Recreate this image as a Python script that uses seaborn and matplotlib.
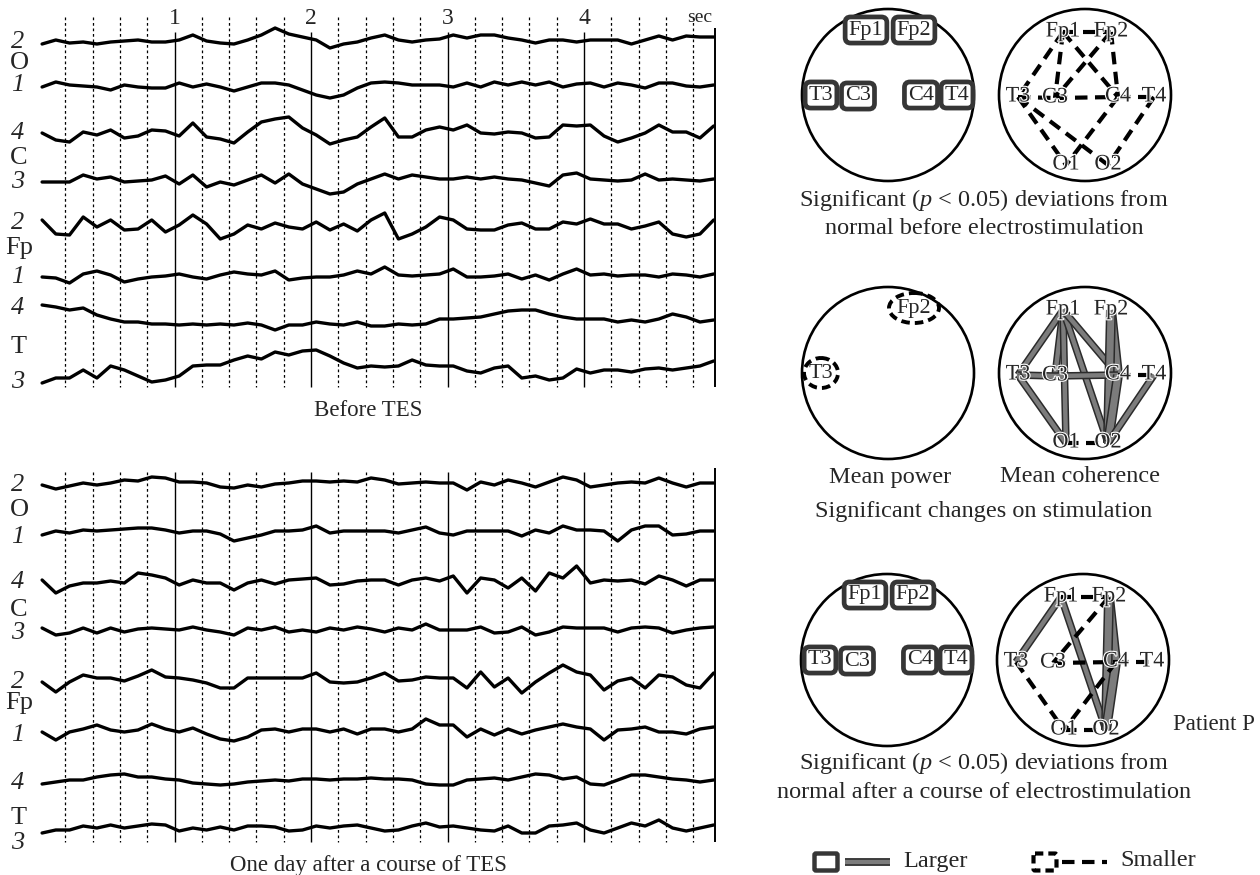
import numpy as np
import pandas as pd
import seaborn as sns
import matplotlib.pyplot as plt
import matplotlib.patheffects as pe
from matplotlib.patches import Circle, Ellipse, FancyBboxPatch

sns.set_style("white")
plt.rcParams['font.family'] = ['Liberation Serif', 'DejaVu Serif']
plt.rcParams['mathtext.fontset'] = 'custom'
plt.rcParams['mathtext.it'] = 'Liberation Serif:italic'
plt.rcParams['mathtext.rm'] = 'Liberation Serif'

# EEG amplitudes (pixels, up = positive), one sample per ~0.1 s
top_O2 = [-1, 3, 0, 1, -1, 1, 2, 3, 1, 1, 3, 8, 2, 0, -1, 3, 8, 15, 9, 6,
          3, -5, -1, 1, 5, 8, 3, 1, 3, 4, 8, 5, 8, 8, 5, 3, 0, 3, 3, 1,
          3, 3, 3, -1, 3, 7, 3, 7, 6, 6]
top_O1 = [-2, 3, 0, -1, -2, -5, 0, -2, -3, -3, 2, -2, 1, -2, -6, -2, 2, 2, 0, -5,
          -10, -13, -10, -3, 2, 3, 2, 0, 0, 0, -2, 2, -2, 3, 0, 3, 0, 3, -2, 1,
          2, -2, 2, 0, -3, 2, 2, -1, -2, 0]
top_C4 = [2, -5, -7, 3, 0, 5, -3, -1, 5, 4, -1, 12, -2, -4, -8, 3, 13, 16, 18, 7,
          0, -9, -5, -2, 8, 17, -2, -2, 5, 8, 5, 10, 2, 1, 3, 2, -3, -2, 10, 9,
          10, -1, -7, -3, 2, 10, 3, 3, -3, 9]
top_C3 = [0, 0, 0, 7, 3, 5, 0, 1, 2, 6, -2, 7, -5, 0, -3, 2, 7, -1, 8, -2,
          -7, -12, -10, -2, 3, 8, 3, 7, 5, 3, 3, 5, 3, 5, 3, 2, -1, -4, 7, 9,
          3, 2, 1, 2, 8, 2, 3, 2, 1, 3]
top_Fp2 = [7, -7, -8, 10, 0, 7, -3, -2, 7, -5, 2, 12, 3, -12, -7, 2, -2, 4, 0, -2,
           5, -3, 3, -4, 7, 14, -12, -7, 0, 10, 7, -2, -3, -3, 2, 4, -2, -2, 5, 3,
           8, 3, 3, -2, 1, 5, -7, -10, -7, 7]
top_Fp1 = [0, -1, -6, 3, 6, 2, -5, -2, 0, 1, 3, 0, -2, 2, 5, 3, 2, 6, -3, -1,
           0, 0, 2, 6, 3, 10, 2, 1, 2, 3, 8, 0, 0, 1, 3, -2, 2, -3, 3, 8,
           2, 3, 1, 2, 2, 0, 3, 2, 0, 3]
top_T4 = [17, 15, 12, 14, 7, 3, 0, 0, -2, -2, -3, -2, -3, -2, -3, -1, -3, -8, -3, -3,
          0, -2, -3, 0, -4, -4, -2, -3, -2, 3, 3, 4, 5, 8, 11, 12, 12, 8, 5, 3,
          3, 3, 0, 2, 0, 3, 8, 5, 0, 2]
top_T3 = [-10, -5, -5, 3, -5, 7, 3, -3, -9, -7, -3, 7, 8, 8, 13, 17, 14, 21, 18, 22,
          23, 17, 10, 5, 7, 6, 7, 13, 8, 7, 7, 2, 0, 5, 7, -5, -3, -7, -5, 4,
          0, 3, 3, 1, 4, 5, 3, 5, 7, 12]

bot_O2 = [0, -4, -1, 2, 0, 2, 5, 4, 8, 7, 3, 3, 2, -2, -3, 0, -2, 1, 2, 4,
          4, 3, 4, 3, 7, 5, 1, 2, 3, 2, 2, -5, 3, 0, 5, 2, -2, 3, 8, 5,
          -2, 0, 2, 3, 2, 7, 2, -2, 2, 2]
bot_O1 = [-2, 2, 0, 3, 2, 3, 4, 5, 5, 3, 0, 2, 2, -1, -8, -5, -2, 2, 2, 3,
          7, 0, 2, 2, 2, 2, 0, 3, 6, 0, -2, 2, 2, 2, 2, -3, 3, 0, 7, 3,
          3, 2, -8, 3, 7, 7, -2, -1, 2, 2]
bot_C4 = [3, -10, -3, 0, 0, 2, 0, 10, 8, 5, -2, 3, 0, 0, -7, 0, 3, -1, 3, 4,
          5, -2, -1, 2, 3, 3, -2, 3, 5, 2, 7, -10, 5, 3, -5, 5, -8, 10, 5, 17,
          0, 3, 2, 3, -1, 7, 3, -3, 3, 3]
bot_C3 = [2, -5, -3, 2, -3, 2, -2, 1, 2, 1, 0, 3, 0, -2, -5, 2, 0, 3, -2, 0,
          -2, 2, 0, 3, 1, -2, 2, 0, 6, 0, 0, 0, 3, -3, -2, 3, -5, -2, 3, 2,
          2, 2, -2, 2, 3, 2, -3, 0, 2, 3]
bot_Fp2 = [-2, -12, -2, 5, 2, 2, -1, 4, 10, 3, 2, 0, -3, -8, -8, 2, 2, 2, 2, 2,
           7, -2, -3, -2, 2, 7, -1, 0, 3, 2, 2, -8, 8, -7, 2, -13, -2, 7, 15, 8,
           5, -10, -1, 2, -8, 5, 3, -5, -8, 7]
bot_Fp1 = [0, -8, 0, 3, 7, 2, 0, 2, 8, 3, 0, 4, -2, -7, -9, -5, 2, 3, 0, 3,
           3, 0, 3, -2, 3, 3, 0, 3, 13, 7, 7, -5, 3, -3, 3, -2, 2, 5, 8, 5,
           3, -8, 2, 3, 5, 0, 0, -2, 3, 5]
bot_T4 = [-2, 0, 2, 2, 5, 7, 8, 5, 5, 3, 2, -1, -2, -3, -2, 0, 1, 2, 1, 3,
          3, 2, 3, 3, 4, 3, 3, 2, -2, -3, -3, 2, 3, 4, 2, 5, 8, 7, 3, 5,
          -2, -3, 2, 7, 7, 5, 3, 2, 0, 2]
bot_T3 = [-5, -2, -2, 2, 0, 3, 0, 2, 4, 3, -3, 0, -2, 1, -2, 2, 2, 1, -3, -2,
          2, 0, 2, 3, 0, -3, -2, 2, 5, 1, 2, 0, -2, -3, 2, -5, -5, 2, 3, 5,
          -2, -5, 0, 5, 2, 8, 0, -3, 0, 3]

channels = ["O2", "O1", "C4", "C3", "Fp2", "Fp1", "T4", "T3"]
top_traces = [top_O2, top_O1, top_C4, top_C3, top_Fp2, top_Fp1, top_T4, top_T3]
bot_traces = [bot_O2, bot_O1, bot_C4, bot_C3, bot_Fp2, bot_Fp1, bot_T4, bot_T3]
top_base = [43, 85, 135, 182, 227, 277, 322, 373]
bot_base = [485, 533, 583, 630, 680, 732, 782, 828]
times = np.linspace(0.03, 4.95, 50)

rows = []
for panel, traces, bases in [("top", top_traces, top_base), ("bot", bot_traces, bot_base)]:
    for ch, amp, b in zip(channels, traces, bases):
        for t, a in zip(times, amp):
            rows.append({"panel": panel, "channel": ch, "t": t, "y": b - a})
eeg = pd.DataFrame(rows)

# electrode maps
electrodes = {"Fp1": (-22, -63), "Fp2": (26, -63), "T3": (-67, 2), "C3": (-30, 3),
              "C4": (33, 2), "T4": (69, 2), "O1": (-19, 70), "O2": (23, 70)}
before_power_larger = ["Fp1", "Fp2", "T3", "C3", "C4", "T4"]
change_power_smaller = ["Fp2", "T3"]
after_power_larger = ["Fp1", "Fp2", "T3", "C3", "C4", "T4"]
before_coh_smaller = [("Fp1", "Fp2"), ("Fp1", "T3"), ("Fp1", "C3"), ("Fp1", "C4"),
                      ("Fp2", "C3"), ("Fp2", "C4"), ("T3", "C3"), ("C3", "C4"),
                      ("C4", "T4"), ("T3", "O1"), ("T3", "O2"), ("C4", "O1"), ("T4", "O2")]
change_coh_larger = [("Fp1", "T3"), ("Fp1", "C3"), ("Fp1", "O1"), ("Fp1", "O2"),
                     ("Fp1", "C4"), ("Fp2", "C4"), ("Fp2", "O2"), ("T3", "C3"),
                     ("C3", "C4"), ("T3", "O1"), ("C4", "O2"), ("T4", "O2")]
change_coh_smaller = [("C4", "T4"), ("O1", "O2")]
after_coh_larger = [("Fp1", "T3"), ("Fp1", "O2"), ("Fp2", "C4"), ("Fp2", "O2"), ("C4", "O2")]
after_coh_smaller = [("Fp1", "Fp2"), ("Fp2", "C3"), ("C3", "C4"), ("C4", "T4"),
                     ("T3", "O1"), ("O1", "O2"), ("C4", "O1")]
thick = [("Fp2", "O2"), ("Fp2", "C4"), ("C4", "O2")]

fig = plt.figure(figsize=(12.6, 8.75), dpi=100)

# EEG panels
PXS = 136.5
panels = {"top": (fig.add_axes([0, 1 - 430 / 875, 730 / 1260, 430 / 875]), (430, 0), 17, 32, 387),
          "bot": (fig.add_axes([0, 0, 730 / 1260, 445 / 875]), (875, 430), 472, 472, 842)}
dots = [round(0.2 * i, 1) for i in range(1, 25) if i % 5]
for name, (ax, ylim, ydot, ysol, ybot) in panels.items():
    sns.lineplot(data=eeg[eeg.panel == name], x="t", y="y", units="channel",
                 estimator=None, sort=False, color="black", lw=2.4, ax=ax)
    for ln in ax.get_lines():
        ln.set_solid_joinstyle("round")
    ax.vlines(dots, ydot, ybot, colors="black", lw=0.9, linestyles=(0, (2.2, 2.2)))
    ax.vlines([1, 2, 3, 4], ysol, ybot, colors="black", lw=1.0)
    ax.vlines([4.96], ysol - 4, ybot, colors="black", lw=1.4)
    ax.set_xlim(-38 / PXS, (730 - 38) / PXS)
    ax.set_ylim(*ylim)
    ax.axis("off")
ax_top = panels["top"][0]
for s in [1, 2, 3, 4]:
    ax_top.text(s, 18, str(s), ha="center", va="center", fontsize=17)
ax_top.text(4.85, 18, "sec", ha="center", va="center", fontsize=14)

# overlay for labels and captions (pixel coordinates)
ov = fig.add_axes([0, 0, 1, 1])
ov.set_xlim(0, 1260)
ov.set_ylim(875, 0)
ov.axis("off")

digit_y = {"top": [42, 85, 133, 182, 223, 277, 308, 382],
           "bot": [485, 537, 582, 633, 682, 735, 783, 843]}
letter_y = {"top": [63, 158, 248, 347], "bot": [510, 610, 703, 818]}
digits = ["2", "1", "4", "3", "2", "1", "4", "3"]
letters = ["O", "C", "Fp", "T"]
for p in ["top", "bot"]:
    for d, y in zip(digits, digit_y[p]):
        ov.text(18, y, d, ha="center", va="center", fontsize=19, style="italic")
    for l, y in zip(letters, letter_y[p]):
        ov.text(19, y, l, ha="center", va="center", fontsize=19)
ov.text(368, 411, "Before TES", ha="center", va="center", fontsize=16.5)
ov.text(368, 865, "One day after a course of TES", ha="center", va="center", fontsize=16.5)

big = [pe.Stroke(linewidth=5.6, foreground="#2b2b2b"), pe.Normal()]
lab_fx = [pe.withStroke(linewidth=1.6, foreground="white")]


def head(cx, cy):
    ax = fig.add_axes([(cx - 105) / 1260, (875 - cy - 105) / 875, 210 / 1260, 210 / 875])
    ax.set_xlim(-105, 105)
    ax.set_ylim(105, -105)
    ax.axis("off")
    ax.add_patch(Circle((0, 0), 86, fill=False, lw=1.9, ec="black", zorder=1))
    return ax


def power_map(ax, larger=(), smaller=()):
    for e in larger:
        x, y = electrodes[e]
        ax.text(x, y - 2, e, ha="center", va="center", fontsize=16, zorder=3,
                bbox=dict(boxstyle="round,pad=0.16,rounding_size=0.25", fc="white",
                          ec="#363636", lw=3.4))
    for e in smaller:
        x, y = electrodes[e]
        w = 50 if e.startswith("Fp") else 34
        ax.add_patch(Ellipse((x, y - 2), w, 30, fill=False, lw=2.8, ec="black",
                             ls=(0, (2.2, 1.3)), zorder=2))
        ax.text(x, y - 2, e, ha="center", va="center", fontsize=16, zorder=3)


def coherence_map(ax, larger=(), smaller=()):
    for a, b in larger:
        (xa, ya), (xb, yb) = electrodes[a], electrodes[b]
        w = 5.0 if (a, b) in thick else 3.2
        ax.plot([xa, xb], [ya, yb], color="#7c7c7c", lw=w, solid_capstyle="butt", zorder=2,
                path_effects=[pe.Stroke(linewidth=w + 2.2, foreground="#2b2b2b"), pe.Normal()])
    for a, b in smaller:
        (xa, ya), (xb, yb) = electrodes[a], electrodes[b]
        ax.plot([xa, xb], [ya, yb], color="black", lw=3.0, dashes=(3.0, 1.8), zorder=2)
    for e, (x, y) in electrodes.items():
        ax.text(x, y, e, ha="center", va="center", fontsize=16, zorder=4, path_effects=lab_fx)


power_map(head(888, 95), larger=before_power_larger)
coherence_map(head(1085, 95), smaller=before_coh_smaller)
power_map(head(888, 373), smaller=change_power_smaller)
coherence_map(head(1085, 373), larger=change_coh_larger, smaller=change_coh_smaller)
power_map(head(887, 660), larger=after_power_larger)
coherence_map(head(1083, 660), larger=after_coh_larger, smaller=after_coh_smaller)

cap = dict(ha="center", va="center", fontsize=17.5)
ov.text(984, 200, "Significant ($p$ < 0.05) deviations from", **cap)
ov.text(984, 229, "normal before electrostimulation", **cap)
ov.text(890, 477, "Mean power", **cap)
ov.text(1080, 477, "Mean coherence", **cap)
ov.text(984, 512, "Significant changes on stimulation", **cap)
ov.text(984, 763, "Significant ($p$ < 0.05) deviations from", **cap)
ov.text(984, 792, "normal after a course of electrostimulation", **cap)
ov.text(1255, 725, "Patient P", ha="right", va="center", fontsize=16.5)

# legend
ov.add_patch(FancyBboxPatch((816, 855), 20, 14, boxstyle="round,pad=1.5", fc="white",
                            ec="#363636", lw=3.2))
ov.plot([845, 890], [862, 862], color="#7c7c7c", lw=3.2, solid_capstyle="butt", path_effects=big)
ov.text(903, 861, "Larger", ha="left", va="center", fontsize=17.5)
ov.add_patch(FancyBboxPatch((1035, 855), 20, 14, boxstyle="round,pad=1.5", fc="white",
                            ec="black", lw=3.0, ls=(0, (2.0, 1.2))))
ov.plot([1062, 1107], [862, 862], color="black", lw=3.0, dashes=(3.0, 1.8))
ov.text(1120, 861, "Smaller", ha="left", va="center", fontsize=17.5)

fig.savefig("out.png", dpi=100)
